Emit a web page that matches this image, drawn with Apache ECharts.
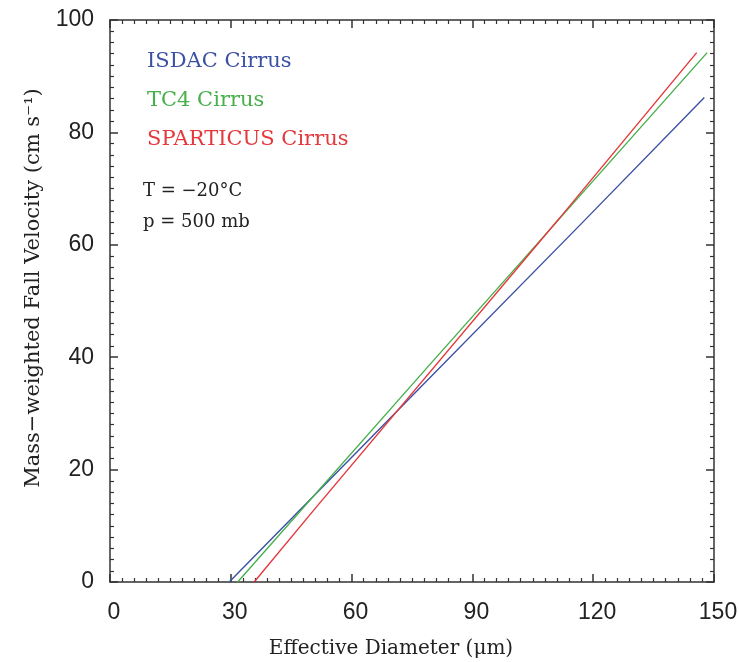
<!DOCTYPE html>
<html>
<head>
<meta charset="utf-8">
<script src="https://cdn.jsdelivr.net/npm/echarts@6/dist/echarts.min.js"></script>
<style>
  html, body { margin: 0; padding: 0; background: #fff; }
  #fall_chart { width: 739px; height: 662px; }
</style>
</head>
<body>
<div id="fall_chart"></div>
<script>
// effective diameter (um) -> mass-weighted fall velocity (cm/s)
var seriesNames = ['ISDAC Cirrus', 'TC4 Cirrus', 'SPARTICUS Cirrus'];
var seriesColors = ['#3b51a3', '#47b04b', '#e5383c'];
var isdacLine = [[29.6, 0], [76.2, 34.0], [116.7, 63.5], [147.6, 86.2]];
var tc4Line = [[31.7, 0], [78.2, 37.7], [148.3, 94.2]];
var sparticusLine = [[35.8, 0], [50.5, 12.7], [111.7, 64.8], [145.7, 94.2]];
var xTicks = [0, 30, 60, 90, 120, 150];
var yTicks = [0, 20, 40, 60, 80, 100];
var notes = ['T = \u221220\u00b0C', 'p = 500 mb'];

(function(){
	var myChart = echarts.init(document.getElementById('fall_chart'));

	var axisColor = '#333';
	var serif = '"DejaVu Serif", "Liberation Serif", serif';
	var sans = '"Liberation Sans", Arial, sans-serif';

	function frameAxis(extra){
		var base = {
			type: 'value',
			axisLine: { show: true, onZero: false, lineStyle: { color: axisColor, width: 1.5 } },
			axisTick: { show: true, inside: true, length: 8, lineStyle: { color: axisColor, width: 1.5 } },
			minorTick: { show: true, splitNumber: 10, length: 4, lineStyle: { color: axisColor, width: 1.2 } },
			splitLine: { show: false },
			axisLabel: { show: false }
		};
		for (var k in extra) base[k] = extra[k];
		return base;
	}

	var lines = [isdacLine, tc4Line, sparticusLine];
	var series = [];
	for (var i = 0; i < lines.length; i++) {
		series.push({
			name: seriesNames[i],
			type: 'line',
			data: lines[i],
			showSymbol: false,
			symbol: 'none',
			lineStyle: { color: seriesColors[i], width: 1.4 },
			itemStyle: { color: seriesColors[i] },
			silent: true
		});
	}

	var option = {
		animation: false,
		backgroundColor: '#fff',
		grid: { left: 110, right: 25, top: 20, bottom: 80, containLabel: false, outerBoundsMode: 'none' },
		legend: {
			orient: 'vertical',
			left: 137,
			top: 46,
			itemGap: 18,
			itemWidth: 0,
			itemHeight: 0,
			icon: 'none',
			selectedMode: false,
			data: seriesNames.map(function(n, i){
				return { name: n, textStyle: { color: seriesColors[i] } };
			}),
			textStyle: { fontFamily: serif, fontSize: 21 }
		},
		xAxis: [
			frameAxis({
				position: 'bottom', min: 0, max: 150, interval: 30,
				name: 'Effective Diameter (\u03bcm)',
				nameLocation: 'middle', nameGap: 57,
				nameTextStyle: { fontFamily: serif, fontSize: 20, color: '#222', padding: [0, 42, 0, 0] },
				axisLabel: {
					show: true, margin: 19, color: '#222', fontFamily: sans, fontSize: 23,
					padding: [0, 0, 0, 8],
					formatter: function(v){ return xTicks.indexOf(v) >= 0 ? String(v) : ''; }
				}
			}),
			frameAxis({ position: 'top', min: 0, max: 150, interval: 30 })
		],
		yAxis: [
			frameAxis({
				position: 'left', min: 0, max: 100, interval: 20,
				name: 'Mass\u2212weighted Fall Velocity (cm s\u207b\u00b9)',
				nameLocation: 'middle', nameGap: 66,
				nameTextStyle: { fontFamily: serif, fontSize: 21, color: '#222', padding: [0, 0, 0, 26] },
				axisLabel: {
					show: true, margin: 16, color: '#222', fontFamily: sans, fontSize: 23,
					formatter: function(v){ return yTicks.indexOf(v) >= 0 ? String(v) : ''; }
				}
			}),
			frameAxis({ position: 'right', min: 0, max: 100, interval: 20 })
		],
		graphic: [
			{ type: 'text', left: 143, top: 182, style: { text: notes[0], fontFamily: serif, fontSize: 18, fill: '#222' } },
			{ type: 'text', left: 143, top: 213, style: { text: notes[1], fontFamily: serif, fontSize: 18, fill: '#222' } }
		],
		series: series
	};

	myChart.setOption(option);
})();
</script>
</body>
</html>
